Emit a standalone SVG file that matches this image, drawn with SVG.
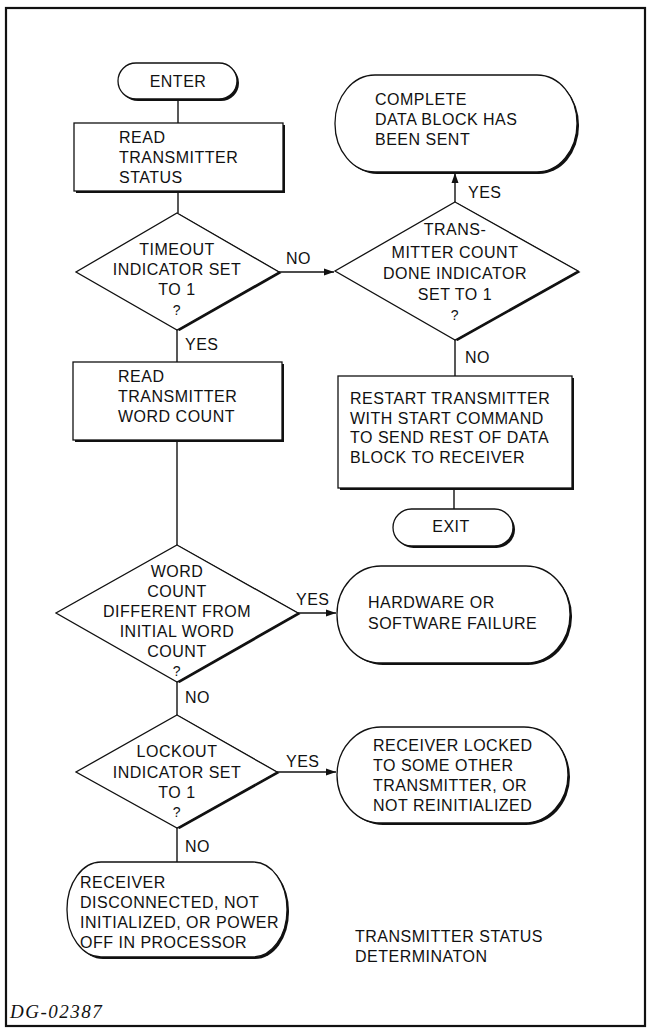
<svg xmlns="http://www.w3.org/2000/svg" width="647" height="1028" viewBox="0 0 647 1028">
<defs>
<style>
.t{font-family:"Liberation Sans",Arial,sans-serif;font-size:16px;letter-spacing:0.5px;fill:#111}
.m{text-anchor:middle}
.q{font-size:14px}
.s{fill:#fff;stroke:#111;stroke-width:1.3}
.sh{fill:#111;stroke:none}
.c{stroke:#111;stroke-width:1.4;fill:none}
</style>
<marker id="ah" markerWidth="11" markerHeight="8" refX="10" refY="4" orient="auto" markerUnits="userSpaceOnUse">
<path d="M0,0.5 L10,4 L0,7.5 z" fill="#111"/>
</marker>
</defs>
<rect width="647" height="1028" fill="#fff"/>
<rect x="6" y="8" width="639" height="1018" fill="none" stroke="#111" stroke-width="2.2"/>

<g id="connectors">
<line class="c" x1="178" y1="99" x2="178" y2="123"/>
<line class="c" x1="178" y1="191" x2="178" y2="213"/>
<line class="c" x1="279" y1="272" x2="334" y2="272" marker-end="url(#ah)"/>
<line class="c" x1="177" y1="330" x2="177" y2="362"/>
<line class="c" x1="177" y1="440" x2="177" y2="545"/>
<line class="c" x1="298" y1="613" x2="336" y2="613" marker-end="url(#ah)"/>
<line class="c" x1="177" y1="682" x2="177" y2="715"/>
<line class="c" x1="277" y1="772" x2="336" y2="772" marker-end="url(#ah)"/>
<line class="c" x1="177" y1="828" x2="177" y2="862"/>
<line class="c" x1="455" y1="202" x2="455" y2="173" marker-end="url(#ah)"/>
<line class="c" x1="455" y1="340" x2="455" y2="376"/>
<line class="c" x1="454" y1="488" x2="454" y2="509"/>
<text class="t" x="286" y="264">NO</text>
<text class="t" x="185" y="350">YES</text>
<text class="t" x="468" y="198">YES</text>
<text class="t" x="465" y="363">NO</text>
<text class="t" x="296" y="605">YES</text>
<text class="t" x="185" y="703">NO</text>
<text class="t" x="286" y="767">YES</text>
<text class="t" x="185" y="852">NO</text>
</g>

<g id="enter">
<rect class="sh" x="120" y="65" width="119" height="36" rx="18"/>
<rect class="s" x="118" y="63" width="119" height="36" rx="18"/>
<text class="t m" x="178" y="87">ENTER</text>
</g>

<g id="read-status">
<rect class="sh" x="76" y="125" width="209" height="68"/>
<rect class="s" x="74" y="123" width="209" height="68"/>
<text class="t" x="119" y="143">READ</text>
<text class="t" x="119" y="163">TRANSMITTER</text>
<text class="t" x="119" y="183">STATUS</text>
</g>

<g id="timeout">
<polygon class="sh" points="179.5,214 281.5,273 179.5,331 78.5,273"/>
<polygon class="s" points="177,213 279,272 177,330 76,272"/>
<text class="t m" x="177" y="255">TIMEOUT</text>
<text class="t m" x="177" y="275">INDICATOR SET</text>
<text class="t m" x="177" y="295">TO 1</text>
<text class="t m q" x="177" y="315">?</text>
</g>

<g id="read-wordcount">
<rect class="sh" x="75" y="364" width="209" height="78"/>
<rect class="s" x="73" y="362" width="209" height="78"/>
<text class="t" x="118" y="382">READ</text>
<text class="t" x="118" y="402">TRANSMITTER</text>
<text class="t" x="118" y="422">WORD COUNT</text>
</g>

<g id="wordcount-diff">
<polygon class="sh" points="179.5,546 300.5,614 179.5,683 58.5,614"/>
<polygon class="s" points="177,545 298,613 177,682 56,613"/>
<text class="t m" x="177" y="577">WORD</text>
<text class="t m" x="177" y="597">COUNT</text>
<text class="t m" x="177" y="617">DIFFERENT FROM</text>
<text class="t m" x="177" y="637">INITIAL WORD</text>
<text class="t m" x="177" y="657">COUNT</text>
<text class="t m q" x="177" y="676">?</text>
</g>

<g id="lockout">
<polygon class="sh" points="179.5,716 279.5,773 179.5,829 78.5,773"/>
<polygon class="s" points="177,715 277,772 177,828 76,772"/>
<text class="t m" x="177" y="757">LOCKOUT</text>
<text class="t m" x="177" y="778">INDICATOR SET</text>
<text class="t m" x="177" y="798">TO 1</text>
<text class="t m q" x="177" y="817">?</text>
</g>

<g id="receiver-disconnected">
<rect class="sh" x="69" y="864" width="220" height="95" rx="34" ry="47"/>
<rect class="s" x="67" y="862" width="220" height="95" rx="34" ry="47"/>
<text class="t" x="80" y="888">RECEIVER</text>
<text class="t" x="80" y="908">DISCONNECTED, NOT</text>
<text class="t" x="80" y="928">INITIALIZED, OR POWER</text>
<text class="t" x="80" y="948">OFF IN PROCESSOR</text>
</g>

<g id="complete">
<rect class="sh" x="337" y="77" width="242" height="97" rx="40" ry="48"/>
<rect class="s" x="335" y="75" width="242" height="97" rx="40" ry="48"/>
<text class="t" x="375" y="105">COMPLETE</text>
<text class="t" x="375" y="125">DATA BLOCK HAS</text>
<text class="t" x="375" y="145">BEEN SENT</text>
</g>

<g id="count-done">
<polygon class="sh" points="457.5,203 580.5,272 457.5,341 337.5,272"/>
<polygon class="s" points="455,202 578,271 455,340 335,271"/>
<text class="t m" x="455" y="235">TRANS-</text>
<text class="t m" x="455" y="258">MITTER COUNT</text>
<text class="t m" x="455" y="279">DONE INDICATOR</text>
<text class="t m" x="455" y="300">SET TO 1</text>
<text class="t m q" x="455" y="320">?</text>
</g>

<g id="restart">
<rect class="sh" x="340" y="378" width="234" height="112"/>
<rect class="s" x="338" y="376" width="234" height="112"/>
<text class="t" x="350" y="404">RESTART TRANSMITTER</text>
<text class="t" x="350" y="424">WITH START COMMAND</text>
<text class="t" x="350" y="443">TO SEND REST OF DATA</text>
<text class="t" x="350" y="463">BLOCK TO RECEIVER</text>
</g>

<g id="exit">
<rect class="sh" x="395" y="511" width="120" height="37" rx="18.5"/>
<rect class="s" x="393" y="509" width="120" height="37" rx="18.5"/>
<text class="t m" x="451" y="532">EXIT</text>
</g>

<g id="hw-failure">
<rect class="sh" x="339" y="568" width="233" height="97" rx="44" ry="48"/>
<rect class="s" x="337" y="566" width="233" height="97" rx="44" ry="48"/>
<text class="t" x="368" y="608">HARDWARE OR</text>
<text class="t" x="368" y="629">SOFTWARE FAILURE</text>
</g>

<g id="receiver-locked">
<rect class="sh" x="339" y="729" width="231" height="96" rx="44" ry="48"/>
<rect class="s" x="337" y="727" width="231" height="96" rx="44" ry="48"/>
<text class="t" x="373" y="751">RECEIVER LOCKED</text>
<text class="t" x="373" y="771">TO SOME OTHER</text>
<text class="t" x="373" y="791">TRANSMITTER, OR</text>
<text class="t" x="373" y="811">NOT REINITIALIZED</text>
</g>

<g id="caption">
<text class="t" x="355" y="942">TRANSMITTER STATUS</text>
<text class="t" x="355" y="962">DETERMINATON</text>
<text x="10" y="1018" font-family="'Liberation Serif','Times New Roman',serif" font-style="italic" font-size="19" letter-spacing="1.5" fill="#111">DG-02387</text>
</g>
</svg>
